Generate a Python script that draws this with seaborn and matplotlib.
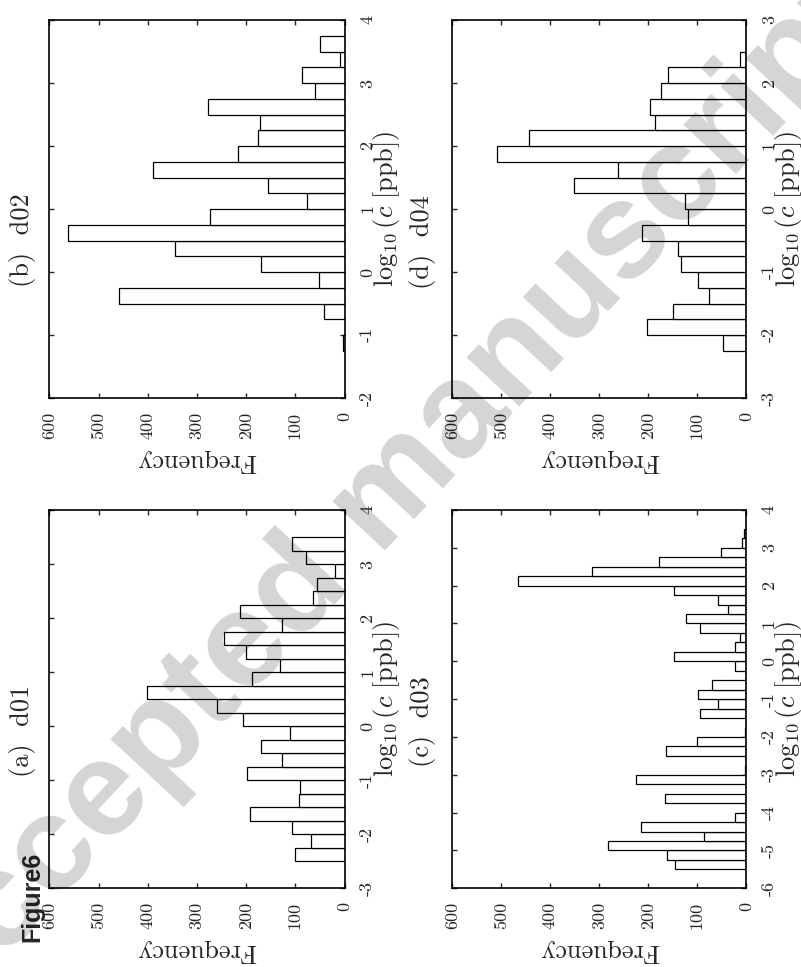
import numpy as np
import pandas as pd
import matplotlib
matplotlib.use("Agg")
import matplotlib.pyplot as plt
import seaborn as sns

# ---------------- data (histogram counts, bin width 0.25 in log10 c) ----------------
BIN_W = 0.25
freq_ticks = [0, 100, 200, 300, 400, 500, 600]
freq_ticklabels = ["0", "100", "200", "300", "400", "500", "600"]

d01_lo, d01_hi = -3, 4
d01_counts = [0, 0, 101, 68, 107, 193, 92, 91, 198, 127, 170, 111, 207, 259,
              401, 189, 132, 201, 245, 127, 213, 65, 56, 20, 78, 107, 0, 0]
d02_lo, d02_hi = -2, 4
d02_counts = [0, 0, 0, 3, 0, 41, 459, 51, 170, 344, 562, 274,
              77, 156, 390, 217, 175, 171, 278, 59, 86, 9, 50, 0]
d03_lo, d03_hi = -6, 4
d03_counts = [0, 0, 146, 161, 283, 87, 214, 24, 0, 166, 0, 225, 2, 0, 163, 101,
              2, 0, 95, 58, 98, 69, 0, 24, 148, 24, 12, 94, 124, 38, 58, 148,
              466, 315, 178, 52, 9, 5, 1, 0]
d04_lo, d04_hi = -3, 3
d04_counts = [0, 0, 0, 47, 203, 149, 76, 98, 134, 140, 213, 118,
              126, 352, 262, 509, 443, 186, 196, 175, 160, 12, 0, 0]

titles = ["(a)  d01", "(b)  d02", "(c)  d03", "(d)  d04"]
xlabel = r"$\log_{10}(c\ [\mathrm{ppb}])$"
ylabel = "Frequency"

# ---------------- style ----------------
sns.set_style("ticks")
plt.rcParams["font.family"] = ["cmr10", "DejaVu Serif"]
plt.rcParams["mathtext.fontset"] = "cm"
plt.rcParams["axes.unicode_minus"] = False
plt.rcParams["axes.formatter.use_mathtext"] = True

W, H = 801, 967
fig = plt.figure(figsize=(W / 100, H / 100), dpi=100)


def px_rect(x0, y0, x1, y1):
    return [x0 / W, 1 - y1 / H, (x1 - x0) / W, (y1 - y0) / H]


def ftxt(x, y, s, **kw):
    fig.text(x / W, 1 - y / H, s, **kw)


panels = [
    (d02_counts, d02_lo, d02_hi, (49.3, 20, 344.5, 398), titles[1], (22, 240)),
    (d04_counts, d04_lo, d04_hi, (452.3, 20, 746.3, 398), titles[3], (423, 242)),
    (d01_counts, d01_lo, d01_hi, (49.3, 510, 344.5, 888.3), titles[0], (22, 731)),
    (d03_counts, d03_lo, d03_hi, (452.3, 510, 746.3, 888.3), titles[2], (423, 722)),
]

for counts, lo, hi, box, title, tc in panels:
    ax = fig.add_axes(px_rect(*box))
    ax.set_facecolor("white")
    edges = [lo + BIN_W * i for i in range(len(counts) + 1)]
    df = pd.DataFrame({"logc": [e + BIN_W / 2 for e in edges[:-1]], "n": counts})
    sns.histplot(data=df, y="logc", weights="n", bins=edges, ax=ax,
                 color="white", edgecolor="black", linewidth=0.9, alpha=1.0)
    ax.set_xlim(600, 0)
    ax.set_ylim(lo, hi)
    ax.set_xlabel("")
    ax.set_ylabel("")
    log_ticks = list(range(lo, hi + 1))
    ax.set_xticks(freq_ticks, labels=freq_ticklabels)
    ax.set_yticks(log_ticks, labels=[str(t) for t in log_ticks])
    ax.tick_params(axis="both", direction="in", length=3.6, width=1.0,
                   top=True, bottom=True, left=True, right=True,
                   labelleft=False, labelright=True, labelbottom=True,
                   labeltop=False, labelsize=13)
    ax.tick_params(axis="x", labelrotation=90, pad=10)
    ax.tick_params(axis="y", labelrotation=90, pad=11)
    for lbl in ax.get_yticklabels():
        lbl.set_verticalalignment("center")
    for sp in ax.spines.values():
        sp.set_visible(True)
        sp.set_linewidth(1.2)
        sp.set_color("black")

    x0, y0, x1, y1 = box
    ftxt(x1 + 42, (y0 + y1) / 2, xlabel, rotation=90, ha="center", va="center",
         fontsize=19)
    ftxt((x0 + x1) / 2, y1 + 63, ylabel, rotation=180, ha="center", va="center",
         fontsize=19)
    ftxt(tc[0], tc[1], title, rotation=90, ha="center", va="center", fontsize=19)

ftxt(32, 897, "Figure6", rotation=90, ha="center", va="center", fontsize=18,
     fontweight="bold", family=["Liberation Sans", "DejaVu Sans"])

ftxt(382, 503, "Accepted manuscript", rotation=47, rotation_mode="anchor",
     ha="center", va="center", fontsize=98, fontweight="bold",
     family=["Liberation Sans", "DejaVu Sans"], color="black", alpha=0.17,
     zorder=10)

fig.savefig("out.png", dpi=100)
